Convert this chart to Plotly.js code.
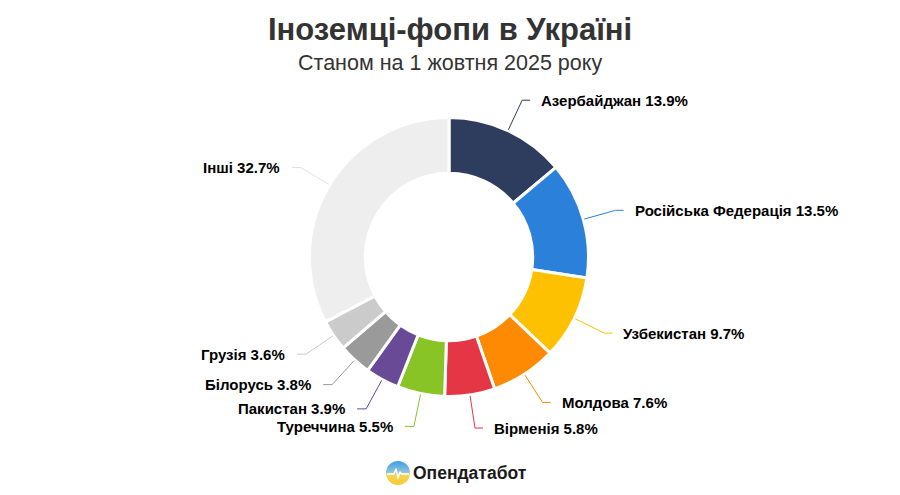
<!DOCTYPE html>
<html>
<head>
<meta charset="utf-8">
<script src="https://cdn.plot.ly/plotly-3.0.1.min.js"></script>
<style>html,body{margin:0;padding:0;background:#fff;}#chart{width:900px;height:495px;}</style>
</head>
<body>
<div id="chart"></div>
<script>
const countries = ["Азербайджан", "Російська Федерація", "Узбекистан", "Молдова", "Вірменія", "Туреччина", "Пакистан", "Білорусь", "Грузія", "Інші"];
const shares = [13.9, 13.5, 9.7, 7.6, 5.8, 5.5, 3.9, 3.8, 3.6, 32.7];
const sliceColors = ["#2e3d5e", "#2b80d9", "#fdc102", "#fd8a02", "#e53646", "#88c426", "#684a96", "#9a9a9a", "#cbcbcb", "#eeeeee"];
const lineColors = ["#2e3d5e", "#2b80d9", "#fdc102", "#fd8a02", "#e53646", "#88c426", "#684a96", "#9a9a9a", "#cbcbcb", "#e2e2e2"];

const W = 900, H = 495;
const CX = 449, CY = 257, R = 139.5;
const LABEL_R = 173;
const px = x => x / W;
const py = y => 1 - y / H;

const total = shares.reduce((a, b) => a + b, 0);
const annotations = [];
const shapes = [];
let cum = 0;
shares.forEach((v, i) => {
  const mid = (cum + v / 2) / total * 2 * Math.PI;
  cum += v;
  const s = Math.sin(mid), c = Math.cos(mid);
  const ex = CX + (R + 1) * s, ey = CY - (R + 1) * c;
  const bx = CX + LABEL_R * s, by = CY - LABEL_R * c;
  const right = s >= 0;
  const hx = bx + (right ? 8 : -9);
  const lx = bx + (right ? 17 : -19);
  shapes.push({
    type: "path", xref: "paper", yref: "paper",
    path: `M ${px(ex)},${py(ey)} L ${px(bx)},${py(by)} L ${px(hx)},${py(by)}`,
    line: {color: lineColors[i], width: 1}
  });
  annotations.push({
    xref: "paper", yref: "paper", x: px(lx), y: py(by),
    xanchor: right ? "left" : "right", yanchor: "middle",
    text: "<b>" + countries[i] + " " + v.toFixed(1) + "%</b>",
    showarrow: false,
    font: {family: "Liberation Sans, Arial, sans-serif", size: 15, color: "#000000"}
  });
});

annotations.push({
  xref: "paper", yref: "paper", x: px(450), y: py(30), xanchor: "center", yanchor: "middle",
  text: "<b>Іноземці-фопи в Україні</b>", showarrow: false,
  font: {family: "Liberation Sans, Arial, sans-serif", size: 31, color: "#333333"}
});
annotations.push({
  xref: "paper", yref: "paper", x: px(450), y: py(63), xanchor: "center", yanchor: "middle",
  text: "Станом на 1 жовтня 2025 року", showarrow: false,
  font: {family: "Liberation Sans, Arial, sans-serif", size: 21.5, color: "#333333"}
});
annotations.push({
  xref: "paper", yref: "paper", x: px(411), y: py(473), xanchor: "left", yanchor: "middle",
  text: "<b>Опендатабот</b>", showarrow: false,
  font: {family: "Liberation Sans, Arial, sans-serif", size: 17.5, color: "#1a1a1a"}
});

const iconSvg = '<svg xmlns="http://www.w3.org/2000/svg" width="24" height="24" viewBox="0 0 24 24">' +
  '<defs><linearGradient id="g" x1="0" y1="0" x2="0" y2="1">' +
  '<stop offset="0" stop-color="#3d9be9"/><stop offset="0.45" stop-color="#8cc4d8"/><stop offset="0.6" stop-color="#f3d655"/><stop offset="1" stop-color="#f7c934"/></linearGradient></defs>' +
  '<circle cx="12" cy="12" r="12" fill="url(#g)"/>' +
  '<path d="M1,13 L8,13 L10,8 L12,17 L14,11 L15.5,13 L23,13" fill="none" stroke="#ffffff" stroke-width="1.4" stroke-linejoin="round"/>' +
  '</svg>';

const data = [{
  type: "pie",
  labels: countries,
  values: shares,
  sort: false,
  direction: "clockwise",
  rotation: 0,
  hole: 0.6,
  textinfo: "none",
  hoverinfo: "label+percent",
  marker: {colors: sliceColors, line: {color: "#ffffff", width: 3}},
  domain: {x: [px(CX - R), px(CX + R)], y: [py(CY + R), py(CY - R)]},
  showlegend: false
}];

const layout = {
  width: W, height: H,
  margin: {l: 0, r: 0, t: 0, b: 0},
  paper_bgcolor: "#ffffff",
  showlegend: false,
  annotations: annotations,
  shapes: shapes,
  images: [{
    source: "data:image/svg+xml;base64," + btoa(iconSvg),
    xref: "paper", yref: "paper",
    x: px(386), y: py(461), sizex: px(24), sizey: 24 / H,
    xanchor: "left", yanchor: "top", sizing: "stretch", layer: "above"
  }]
};

Plotly.newPlot("chart", data, layout, {displayModeBar: false, staticPlot: true});
</script>
</body>
</html>
